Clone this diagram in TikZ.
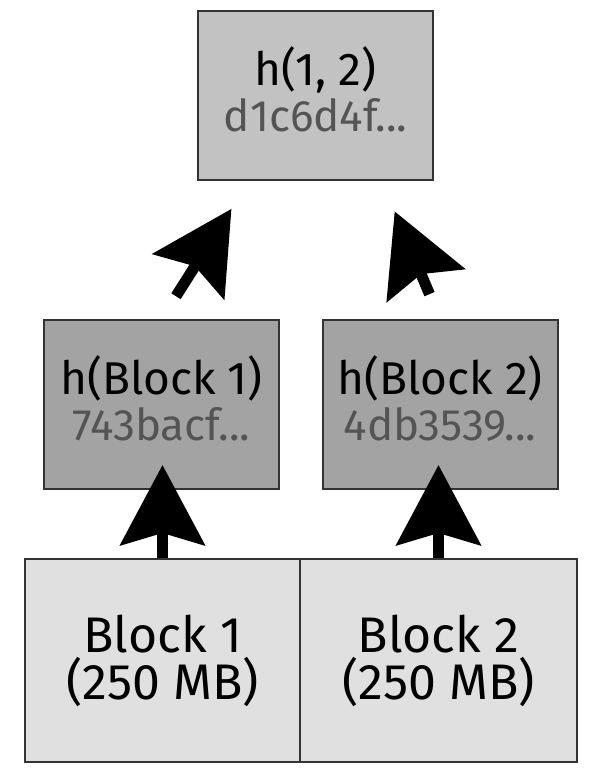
\documentclass[tikz,border=0pt]{standalone}
\usepackage{fontspec}
\setmainfont{Fira Sans}
\usepackage{xcolor}
\usetikzlibrary{arrows.meta, positioning, calc}
\definecolor{rootgray}{gray}{0.76}
\definecolor{leafgray}{gray}{0.64}
\definecolor{blockgray}{gray}{0.88}
\definecolor{hashtext}{gray}{0.33}
\definecolor{edgegray}{gray}{0.2}
\newcommand{\hashval}[1]{{\fontsize{44}{46}\selectfont\color{hashtext}#1}}

\begin{document}
\begin{tikzpicture}[x=1pt, y=-1pt,
    box/.style={draw=edgegray, line width=2pt, align=center, inner sep=0pt,
      font=\fontsize{46}{46}\selectfont},
    hashbox/.style={box, minimum width=235pt, minimum height=169pt, text depth=13pt},
    datablock/.style={box, fill=blockgray, minimum height=203pt,
      font=\fontsize{50}{47}\selectfont},
    hasharrow/.style={line width=11pt, -{Stealth[length=80pt, width=84pt, inset=12pt]}}]
    \useasboundingbox (0,0) rectangle (591,769);
    \node[hashbox, fill=rootgray] (root) at (315.5,95.5) {h(1, 2)\\\hashval{d1c6d4f...}};
    \node[hashbox, fill=leafgray] (leaf1) at (161.5,404.5) {h(Block 1)\\\hashval{743bacf...}};
    \node[hashbox, fill=leafgray] (leaf2) at (440,404.5) {h(Block 2)\\\hashval{4db3539...}};
    \node[datablock, minimum width=275pt] (block1) at (162.5,660.5) {Block 1\\(250 MB)};
    \node[datablock, minimum width=277pt] (block2) at (438.5,660.5) {Block 2\\(250 MB)};
    % blocks are hashed first, then the pair
    \draw[hasharrow, shorten >=-25pt] (block1.north) -- (block1.north |- leaf1.south);
    \draw[hasharrow, shorten >=-25pt] (block2.north) -- (block2.north |- leaf2.south);
    \draw[hasharrow, shorten <=27pt, shorten >=33pt] (leaf1.north) -- ($(root.south)!0.56!(root.south west)$);
    \draw[hasharrow, shorten <=27pt, shorten >=33pt] (leaf2.north) -- ($(root.south)!0.56!(root.south east)$);
\end{tikzpicture}
\end{document}
